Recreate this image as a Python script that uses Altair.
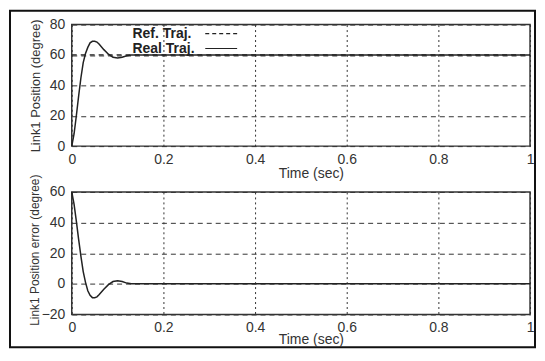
import altair as alt
import pandas as pd

# ---- data ----
time_real = [0, 0.005, 0.01, 0.015, 0.02, 0.025, 0.03, 0.035, 0.04, 0.045, 0.05,
             0.055, 0.06, 0.07, 0.08, 0.09, 0.1, 0.11, 0.12, 0.13, 1.0]
pos_real = [0, 8, 20, 33, 45, 55, 61, 65, 68, 69, 69,
            68.5, 67, 63.5, 60.5, 58.5, 58, 58.5, 59.5, 60, 60]

time_ref = [0, 1.0]
pos_ref = [60, 60]

time_err = [0, 0.005, 0.01, 0.015, 0.02, 0.025, 0.03, 0.035, 0.04, 0.045, 0.05,
            0.055, 0.06, 0.07, 0.08, 0.09, 0.1, 0.11, 0.12, 0.13, 1.0]
pos_err = [60, 52, 41, 29, 18, 8, 1, -4.5, -7.5, -9, -9,
           -8.5, -7, -3.5, -0.5, 1.5, 2, 1.5, 0.5, 0, 0]

legend_labels = ["Ref. Traj.", "Real Traj."]
x_ticks = [0, 0.2, 0.4, 0.6, 0.8, 1]
y_ticks_top = [0, 20, 40, 60, 80]
y_ticks_bottom = [-20, 0, 20, 40, 60]

df_real = pd.DataFrame({"t": time_real, "v": pos_real})
df_ref = pd.DataFrame({"t": time_ref, "v": pos_ref})
df_err = pd.DataFrame({"t": time_err, "v": pos_err})
df_leg = pd.DataFrame({"label": legend_labels})

INK = "#222222"
W, H1, H2 = 460, 122, 123


def xaxis(title_pad):
    return alt.X(
        "t:Q",
        scale=alt.Scale(domain=[0, 1], nice=False),
        axis=alt.Axis(
            values=x_ticks, format="~g", title="Time (sec)", titleX=240,
            titlePadding=title_pad, labelPadding=6, labelOverlap=False,
            labelFlush=False,
        ),
    )


def yaxis(domain, ticks, title, tx, ty, tsize):
    return alt.Y(
        "v:Q",
        scale=alt.Scale(domain=domain, nice=False),
        axis=alt.Axis(values=ticks, title=title, titleX=tx, titleY=ty,
                      titleFontSize=tsize, labelPadding=7, labelOverlap=False,
                      labelFlush=False),
    )


X_TOP = xaxis(0)
Y_TOP = yaxis([0, 80], y_ticks_top, "Link1  Position (degree)", -29, 61, 13)

# ---- top panel ----
ref_line = alt.Chart(df_ref).mark_line(color=INK, strokeWidth=1.3, strokeDash=[5, 4]).encode(
    x=X_TOP, y=Y_TOP
)
real_line = alt.Chart(df_real).mark_line(color=INK, strokeWidth=1.5).encode(
    x=X_TOP, y=Y_TOP
)

leg_txt1 = alt.Chart(df_leg.iloc[[0]]).mark_text(
    align="left", baseline="middle", fontSize=14, fontWeight="bold", color=INK,
    font="Liberation Sans",
).encode(text="label:N", x=alt.value(61), y=alt.value(9))
leg_txt2 = alt.Chart(df_leg.iloc[[1]]).mark_text(
    align="left", baseline="middle", fontSize=14, fontWeight="bold", color=INK,
    font="Liberation Sans",
).encode(text="label:N", x=alt.value(61), y=alt.value(25))
leg_rule1 = alt.Chart(df_leg.iloc[[0]]).mark_rule(
    color=INK, strokeWidth=1.2, strokeDash=[4, 3]
).encode(x=alt.value(134), x2=alt.value(166), y=alt.value(9))
leg_rule2 = alt.Chart(df_leg.iloc[[1]]).mark_rule(
    color=INK, strokeWidth=1.2
).encode(x=alt.value(134), x2=alt.value(166), y=alt.value(24))

frame = alt.Chart(df_leg.iloc[[0]]).mark_rect(
    fillOpacity=0, stroke="#111111", strokeWidth=2
).encode(x=alt.value(-62), x2=alt.value(465), y=alt.value(-14), y2=alt.value(324))

top = alt.layer(ref_line, real_line, leg_rule1, leg_rule2, leg_txt1, leg_txt2, frame).properties(
    width=W, height=H1
)

# ---- bottom panel ----
err_line = alt.Chart(df_err).mark_line(color=INK, strokeWidth=1.5).encode(
    x=xaxis(-2),
    y=yaxis([-20, 60], y_ticks_bottom, "Link1 Position error (degree)", -30, 58, 12),
)
bottom = alt.layer(err_line).properties(width=W, height=H2)

chart = alt.vconcat(top, bottom, spacing=46, bounds="flush").properties(
    padding=0, background="white"
).configure_view(
    stroke="#333333", strokeWidth=1.5
).configure_axis(
    labelFont="Liberation Sans", titleFont="Liberation Sans",
    labelColor="#333333", titleColor="#333333",
    labelFontSize=14, titleFontWeight="normal",
    domain=False, ticks=False, grid=True, gridColor="#333333", gridOpacity=1,
    gridWidth=1,
).configure_axisX(
    gridDash=[2, 3], titleFontSize=14,
).configure_axisY(
    gridDash=[5, 4],
)

chart.save("out.html", embed_options={"renderer": "svg", "actions": False})
